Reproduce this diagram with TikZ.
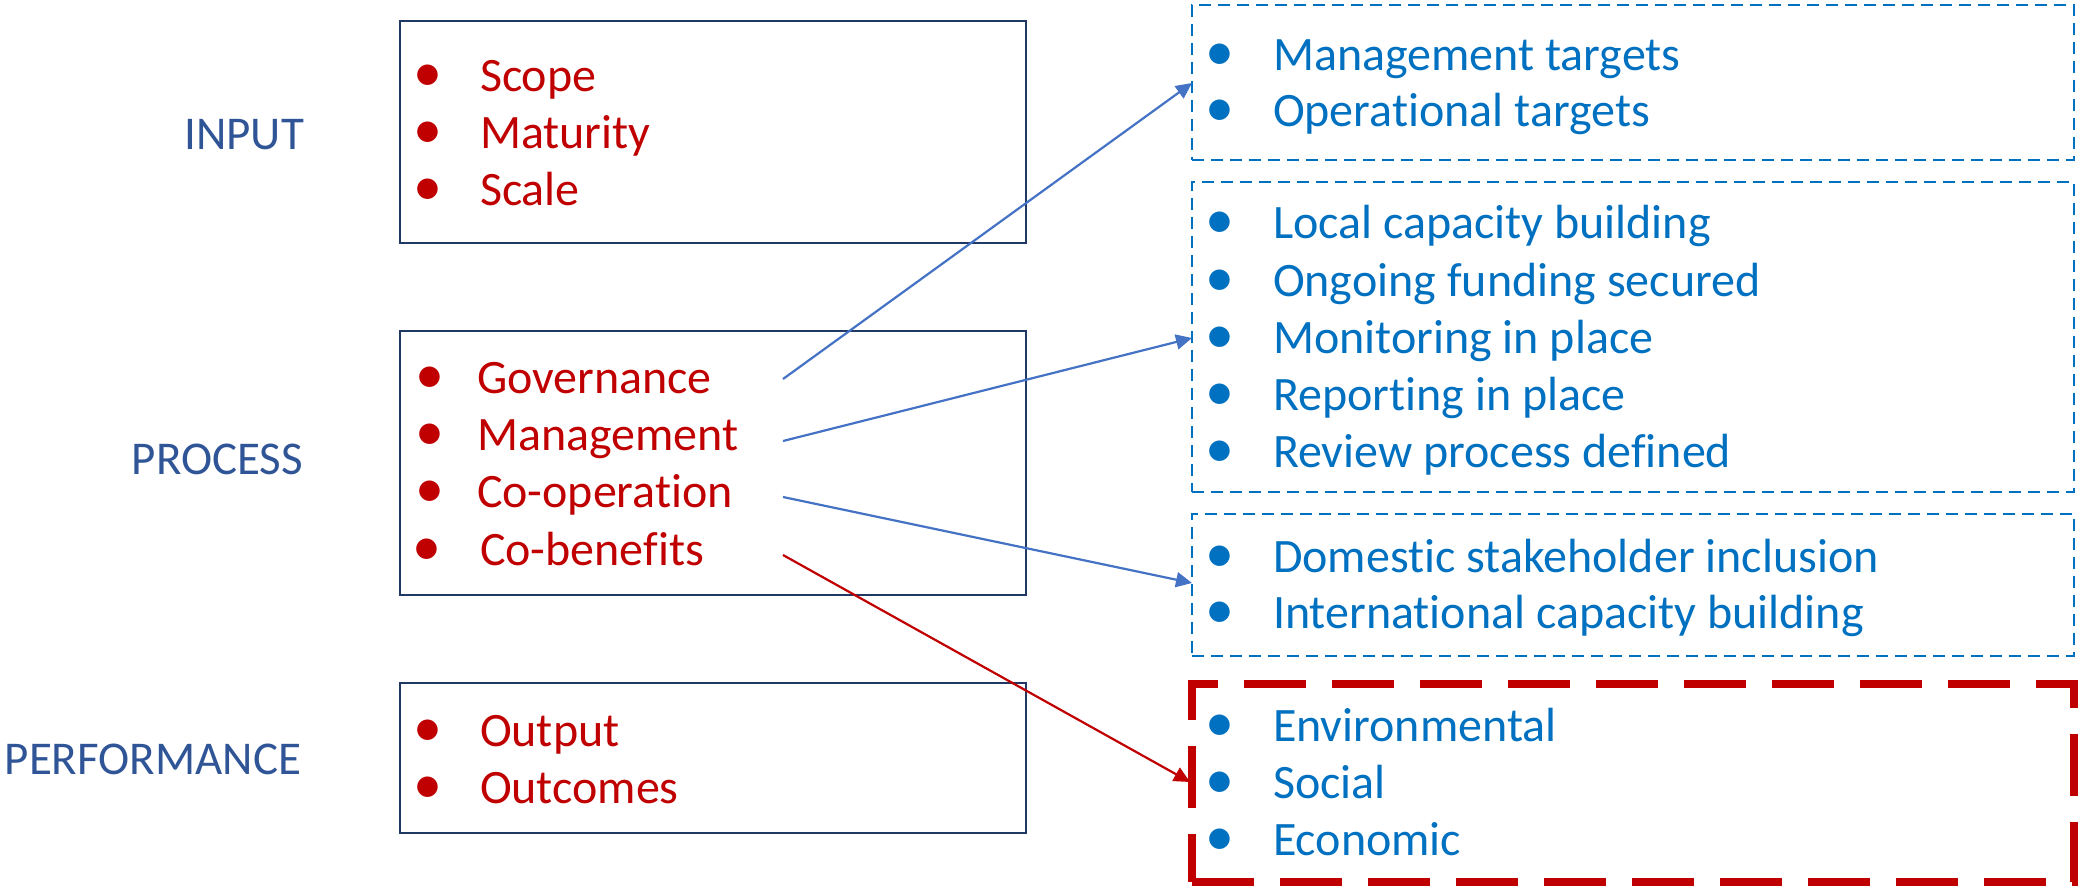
\documentclass[tikz,border=0pt]{standalone}
\usepackage{fontspec}
\setmainfont{Carlito}[Ligatures={NoCommon}]
\usetikzlibrary{arrows.meta}
\definecolor{navy}{HTML}{203864}
\definecolor{lbl}{HTML}{2F5597}
\definecolor{dred}{HTML}{C00000}
\definecolor{tblue}{HTML}{0070C0}
\definecolor{ablue}{HTML}{4472C4}
\begin{document}
\begin{tikzpicture}[x=0.5pt,y=-0.5pt,
  every node/.style={inner sep=0pt, outer sep=0pt},
  txt/.style={font=\fontsize{24}{28}\selectfont, anchor=base west},
  bul/.style={font=\fontsize{29}{28}\selectfont, anchor=base},
  redtxt/.style={txt, text=dred},
  bluetxt/.style={txt, text=tblue},
  redbul/.style={bul, text=dred},
  bluebul/.style={bul, text=tblue},
  solidbox/.style={draw=navy, line width=1.2pt, anchor=north west, minimum width=313pt},
  bluebox/.style={draw=tblue, line width=1pt, dash pattern=on 6pt off 3.5pt, anchor=north west, minimum width=441pt},
  redbox/.style={draw=dred, line width=3.8pt, dash pattern=on 31pt off 13pt, anchor=north west, minimum width=441pt},
  lab/.style={font=\fontsize{23.5}{28}\selectfont, text=lbl, anchor=base east},
  conn/.style={draw=ablue, line width=1.1pt, -{Triangle[length=8pt,width=7.5pt]}},
  redconn/.style={draw=dred, line width=1.1pt, -{Triangle[length=8pt,width=7.5pt]}},
]
\useasboundingbox (0,0) rectangle (2080,889);

% left labels
\node[lab] (linput) at (304,149) {INPUT};
\node[lab] (lprocess) at (303,474) {PROCESS};
\node[lab] (lperf) at (301,774) {PERFORMANCE};

% left boxes
\node[solidbox, minimum height=111pt] (inbox) at (400,21) {};
\node[solidbox, minimum height=132pt] (prbox) at (400,331) {};
\node[solidbox, minimum height=75pt] (pfbox) at (400,683) {};

% right boxes
\node[bluebox, minimum height=77.5pt] (tbox) at (1192,5) {};
\node[bluebox, minimum height=155pt] (mbox) at (1192,182) {};
\node[bluebox, minimum height=71pt] (cbox) at (1192,514) {};
\node[redbox, minimum height=99pt] (bbox) at (1192,684) {};

% input items
\node[redbul] (ib1) at (428,91) {•};  \node[redtxt] (it1) at (480,91) {Scope};
\node[redbul] (ib2) at (428,148) {•}; \node[redtxt] (it2) at (480,148) {Maturity};
\node[redbul] (ib3) at (428,205) {•}; \node[redtxt] (it3) at (480,205) {Scale};

% process items
\node[redbul] (pb1) at (430,393) {•}; \node[redtxt] (pt1) at (477,393) {Governance};
\node[redbul] (pb2) at (430,450) {•}; \node[redtxt] (pt2) at (477,450) {Management};
\node[redbul] (pb3) at (430,507) {•}; \node[redtxt] (pt3) at (477,507) {Co-operation};
\node[redbul] (pb4) at (427,565) {•}; \node[redtxt] (pt4) at (480,565) {Co-benefits};

% performance items
\node[redbul] (fb1) at (428,746) {•}; \node[redtxt] (ft1) at (480,746) {Output};
\node[redbul] (fb2) at (428,803) {•}; \node[redtxt] (ft2) at (480,803) {Outcomes};

% targets
\node[bluebul] (tb1) at (1220,70) {•};  \node[bluetxt] (tt1) at (1273,70) {Management targets};
\node[bluebul] (tb2) at (1220,126) {•}; \node[bluetxt] (tt2) at (1273,126) {Operational targets};

% management
\node[bluebul] (mb1) at (1220,238) {•}; \node[bluetxt] (mt1) at (1273,238) {Local capacity building};
\node[bluebul] (mb2) at (1220,296) {•}; \node[bluetxt] (mt2) at (1273,296) {Ongoing funding secured};
\node[bluebul] (mb3) at (1220,353) {•}; \node[bluetxt] (mt3) at (1273,353) {Monitoring in place};
\node[bluebul] (mb4) at (1220,410) {•}; \node[bluetxt] (mt4) at (1273,410) {Reporting in place};
\node[bluebul] (mb5) at (1220,467) {•}; \node[bluetxt] (mt5) at (1273,467) {Review process defined};

% co-operation
\node[bluebul] (cb1) at (1220,572) {•}; \node[bluetxt] (ct1) at (1273,572) {Domestic stakeholder inclusion};
\node[bluebul] (cb2) at (1220,628) {•}; \node[bluetxt] (ct2) at (1273,628) {International capacity building};

% co-benefits
\node[bluebul] (bb1) at (1220,741) {•}; \node[bluetxt] (bt1) at (1273,741) {Environmental};
\node[bluebul] (bb2) at (1220,798) {•}; \node[bluetxt] (bt2) at (1273,798) {Social};
\node[bluebul] (bb3) at (1220,855) {•}; \node[bluetxt] (bt3) at (1273,855) {Economic};

% connectors
\coordinate (s1) at (783,379); \coordinate (e1) at (1192,83);
\coordinate (s2) at (783,441); \coordinate (e2) at (1192,338);
\coordinate (s3) at (783,497); \coordinate (e3) at (1192,583);
\coordinate (s4) at (783,555); \coordinate (e4) at (1190,782);
\draw[conn] (s1) -- (e1);
\draw[conn] (s2) -- (e2);
\draw[conn] (s3) -- (e3);
\draw[redconn] (s4) -- (e4);
\end{tikzpicture}
\end{document}
